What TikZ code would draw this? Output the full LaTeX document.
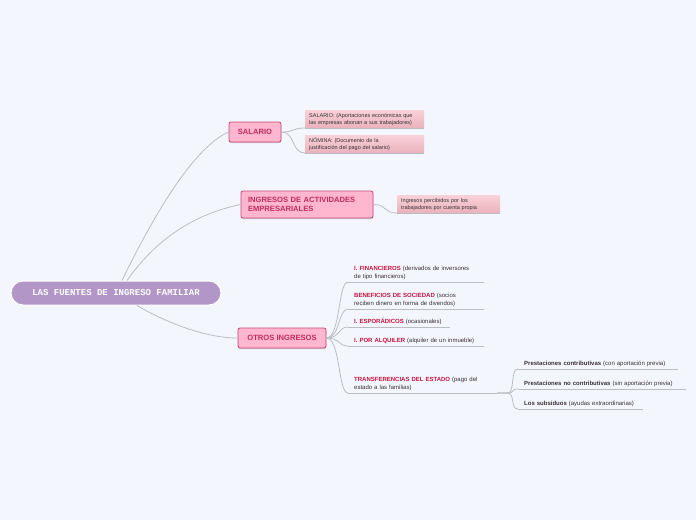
\documentclass[tikz,border=0pt]{standalone}
\usepackage{fontspec}
\setmainfont{Liberation Sans}
\newfontfamily\rootfont{Liberation Mono}
\usetikzlibrary{positioning, shadows}
\definecolor{bgcol}{RGB}{244, 246, 254}
\definecolor{rootcol}{RGB}{179, 150, 200}
\definecolor{topicfill}{RGB}{255, 182, 206}
\definecolor{topicdraw}{RGB}{196, 72, 120}
\definecolor{topictext}{RGB}{190, 45, 95}
\definecolor{notetop}{RGB}{248, 208, 215}
\definecolor{notebot}{RGB}{234, 178, 188}
\definecolor{linkcol}{RGB}{188, 188, 198}
\definecolor{keyred}{RGB}{200, 20, 60}
\definecolor{txtgray}{RGB}{55, 50, 55}

\begin{document}
\begin{tikzpicture}[x=1pt,y=-1pt,
          root/.style={draw=white,line width=1pt,fill=rootcol,rounded corners=12pt,
                       minimum width=210pt,minimum height=24pt,text=white,
                       font=\rootfont\bfseries\fontsize{9}{10}\selectfont},
          topic/.style={draw=topicdraw,fill=topicfill,rounded corners=2pt,line width=0.8pt,
                        text=topictext,font=\bfseries\fontsize{7.6}{9.5}\selectfont,
                        drop shadow={shadow xshift=0.3pt,shadow yshift=-1pt,opacity=0.35}},
          note/.style={anchor=south west,top color=notetop,bottom color=notebot,
                       align=left,inner xsep=4pt,inner ysep=2pt,minimum height=17pt,
                       text=txtgray,font=\fontsize{5.5}{6.6}\selectfont},
          leaf/.style={anchor=south west,align=left,inner xsep=6pt,inner ysep=2.5pt,
                       text=txtgray,font=\fontsize{6}{7.4}\selectfont},
          link/.style={draw=linkcol,line width=0.8pt}]
        \useasboundingbox[fill=bgcol] (0,0) rectangle (696,520);
        % central idea
        \node[root](root) at (116,293){LAS FUENTES DE INGRESO FAMILIAR};
        % main topics
        \node[topic,minimum width=52pt,minimum height=20pt](sal) at (255,132){SALARIO};
        \node[topic,minimum width=132pt,minimum height=27pt,align=left,text width=118pt](act) at (307,204.5)
             {INGRESOS DE ACTIVIDADES\\EMPRESARIALES};
        \node[topic,minimum width=88pt,minimum height=20pt](otr) at (282,338){OTROS INGRESOS};
        % notes
        \node[note,text width=111pt](n1) at (305,128)
             {SALARIO: (Aportaciones econ\'omicas que\\las empresas abonan a sus trabajadores)};
        \node[note,text width=111pt](n2) at (305,153)
             {N\'OMINA: (Documento de la\\justificaci\'on del pago del salario)};
        \node[note,text width=95pt](n3) at (397,213)
             {Ingresos percibidos por los\\trabajadores por cuenta propia};
        % otros ingresos
        \node[leaf,text width=124pt](fin) at (348,282)
             {\mbox{\textcolor{keyred}{\textbf{I. FINANCIEROS}} (derivados de inversores}\\de tipo financieros)};
        \node[leaf,text width=124pt](ben) at (348,309)
             {\mbox{\textcolor{keyred}{\textbf{BENEFICIOS DE SOCIEDAD}} (socios}\\reciben dinero en forma de divendos)};
        \node[leaf,text width=90pt](esp) at (348,327)
             {\mbox{\textcolor{keyred}{\textbf{I. ESPOR\'ADICOS}} (ocasionales)}};
        \node[leaf,text width=124pt](alq) at (348,346)
             {\mbox{\textcolor{keyred}{\textbf{I. POR ALQUILER}} (alquiler de un inmueble)}};
        \node[leaf,text width=137pt](tra) at (348,393)
             {\mbox{\textcolor{keyred}{\textbf{TRANSFERENCIAS DEL ESTADO}} (pago del}\\estado a las familias)};
        \node[leaf,text width=148pt](pc) at (518,369)
             {\mbox{\textbf{Prestaciones contributivas} (con aportaci\'on previa)}};
        \node[leaf,text width=156pt](pnc) at (518,389)
             {\mbox{\textbf{Prestaciones no contributivas} (sin aportaci\'on previa)}};
        \node[leaf,text width=113pt](sub) at (518,409)
             {\mbox{\textbf{Los subsiduos} (ayudas extraordinarias)}};
        % underlines
        \foreach \n in {n1,n2,n3,fin,ben,esp,alq,tra,pc,pnc,sub}
          \draw[link](\n.south west)--(\n.south east);
        % branches
        \draw[link]([xshift=6pt]root.north) .. controls (165,192) and (201,144) .. (sal.west);
        \draw[link]([xshift=11pt]root.north) .. controls (157,238) and (195,214) .. (act.west);
        \draw[link]([xshift=21pt]root.south) .. controls (165,322) and (205,338) .. (otr.west);
        \foreach \n in {n1,n2}
          \draw[link](sal.east) .. controls +(14,0) and +(-14,0) .. (\n.south west);
        \draw[link](act.east) .. controls +(14,0) and +(-14,0) .. (n3.south west);
        \foreach \n in {fin,ben,esp,alq,tra}
          \draw[link](otr.east) .. controls +(14,0) and +(-10,0) .. (\n.south west);
        \foreach \n in {pc,pnc,sub}
          \draw[link](tra.south east) -- ++(10,0) .. controls +(8,0) and +(-8,0) .. (\n.south west);
      \end{tikzpicture}
\end{document}
